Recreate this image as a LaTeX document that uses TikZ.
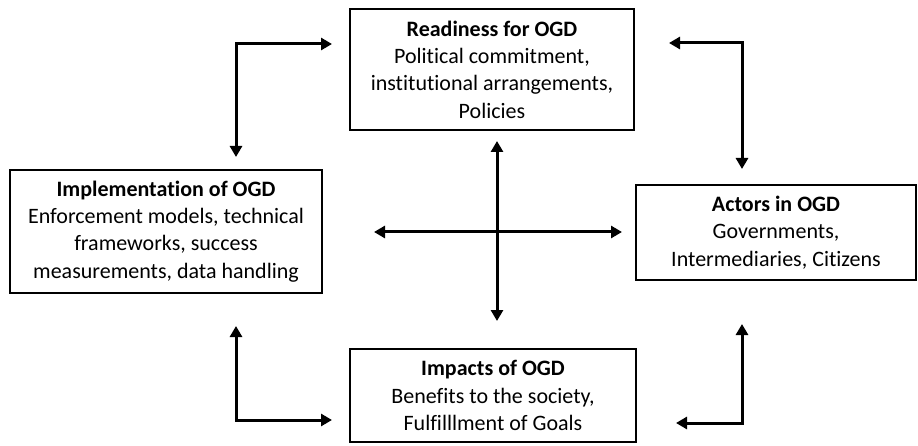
\documentclass[tikz,border=0pt]{standalone}
\usepackage{fontspec}
\setmainfont[Ligatures={NoCommon}]{Carlito}
\usetikzlibrary{arrows.meta,calc}
\begin{document}
\begin{tikzpicture}[x=1pt,y=1pt,
  box/.style={draw=black, line width=2pt, align=center, inner sep=0pt,
    font=\fontsize{22}{27.3}\selectfont},
  dbl/.style={line width=3pt, {Triangle[length=11pt,width=12pt]}-{Triangle[length=11pt,width=12pt]}}]
\useasboundingbox (0,0) rectangle (918,445);
\node[box, minimum width=284pt, minimum height=121pt] (ready) at (492,375.5)
  {\textbf{Readiness for OGD}\\Political commitment,\\institutional arrangements,\\Policies};
\node[box, minimum width=312pt, minimum height=123pt] (impl) at (166,213.5)
  {\textbf{Implementation of OGD}\\Enforcement models, technical\\frameworks, success\\measurements, data handling};
\node[box, minimum width=280pt, minimum height=95pt] (actors) at (776,212.5)
  {\textbf{Actors in OGD}\\Governments,\\Intermediaries, Citizens};
\node[box, minimum width=286pt, minimum height=93pt] (impacts) at (493,49.5)
  {\textbf{Impacts of OGD}\\Benefits to the society,\\Fulfilllment of Goals};
\coordinate (k1) at (236,401);
\coordinate (k2) at (742,402);
\coordinate (k3) at (236,25);
\coordinate (k4) at (742,22);
\coordinate (cx) at (497,213);
\draw[dbl, shorten <=12pt, shorten >=17pt] (impl.north -| k1) |- (ready.west |- k1);
\draw[dbl, shorten <=34pt, shorten >=15pt] (ready.east |- k2) -| (actors.north -| k2);
\draw[dbl, shorten <=32pt, shorten >=17pt] (impl.south -| k3) |- (impacts.west |- k3);
\draw[dbl, shorten <=39pt, shorten >=43pt] (impacts.east |- k4) -| (actors.south -| k4);
\draw[dbl, shorten <=10pt, shorten >=27pt] (ready.south -| cx) -- (impacts.north -| cx);
\draw[dbl, shorten <=51pt, shorten >=13pt] (impl.east |- cx) -- (actors.west |- cx);
\end{tikzpicture}
\end{document}
